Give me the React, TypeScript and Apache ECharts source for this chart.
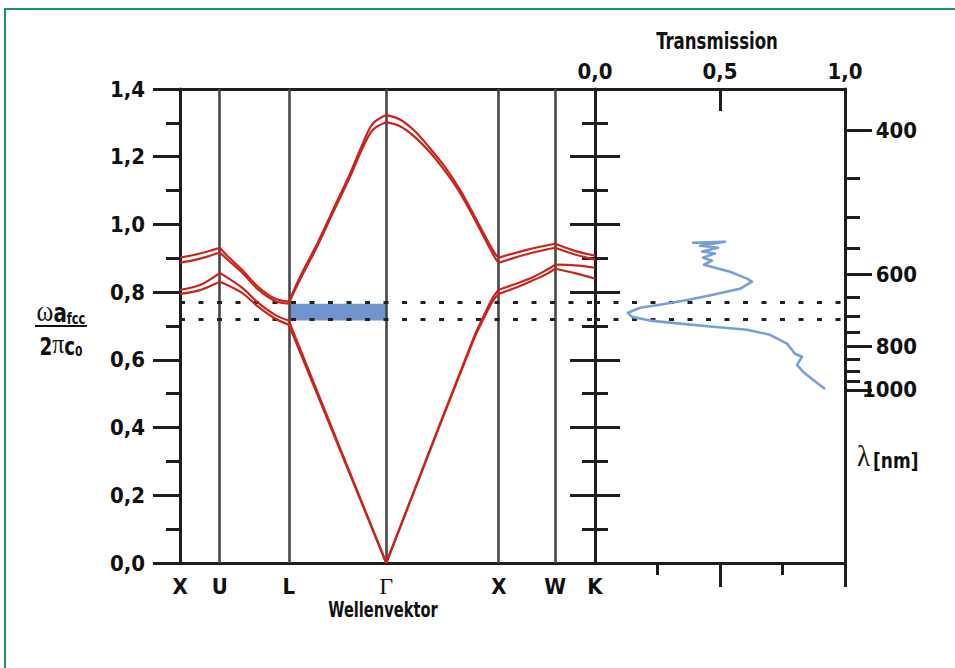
import React, { useEffect, useRef } from 'react';
import * as echarts from 'echarts';

const NARROW = "'Liberation Sans Narrow', 'DejaVu Sans Condensed', 'Liberation Sans', sans-serif";
const SERIF = "'Liberation Serif', 'DejaVu Serif', serif";

// high-symmetry points along the k path (path length in 2π/a units)
const K_NODES = [0, 0.354, 0.966, 1.832, 2.832, 3.332, 3.686];
const K_LABELS = ['X', 'U', 'L', 'Γ', 'X', 'W', 'K'];

// band structure: [k, ωa/2πc]
const BAND_1 = [
  [0, 0.795], [0.178, 0.806], [0.354, 0.831],
  [0.551, 0.798], [0.693, 0.757], [0.844, 0.722], [0.966, 0.704],
  [1.832, 0],
  [2.602, 0.655], [2.709, 0.73], [2.78, 0.775], [2.832, 0.795],
  [2.957, 0.81], [3.108, 0.831], [3.259, 0.854], [3.332, 0.869],
  [3.508, 0.856], [3.686, 0.84],
];
const BAND_2 = [
  [0, 0.807], [0.178, 0.821], [0.354, 0.857],
  [0.551, 0.813], [0.693, 0.769], [0.844, 0.733], [0.966, 0.716],
  [1.832, 0],
  [2.602, 0.66], [2.709, 0.738], [2.78, 0.785], [2.832, 0.807],
  [2.957, 0.822], [3.108, 0.84], [3.259, 0.866], [3.332, 0.881],
  [3.508, 0.879], [3.686, 0.872],
];
const BAND_3 = [
  [0, 0.887], [0.178, 0.899], [0.354, 0.917],
  [0.426, 0.895], [0.551, 0.858], [0.693, 0.808], [0.844, 0.774], [0.966, 0.766],
  [1.066, 0.837], [1.217, 0.934], [1.359, 1.035], [1.51, 1.141], [1.625, 1.228], [1.714, 1.28], [1.832, 1.302],
  [1.954, 1.29], [2.087, 1.258], [2.22, 1.213], [2.353, 1.158], [2.487, 1.093], [2.62, 1.013], [2.735, 0.94], [2.806, 0.897], [2.832, 0.887],
  [3.08, 0.912], [3.332, 0.931],
  [3.508, 0.911], [3.686, 0.896],
];
const BAND_4 = [
  [0, 0.902], [0.178, 0.914], [0.354, 0.931],
  [0.426, 0.905], [0.551, 0.866], [0.693, 0.816], [0.844, 0.781], [0.966, 0.772],
  [1.066, 0.845], [1.217, 0.942], [1.359, 1.043], [1.51, 1.15], [1.625, 1.24], [1.714, 1.298], [1.832, 1.323],
  [1.954, 1.31], [2.087, 1.275], [2.22, 1.225], [2.353, 1.17], [2.487, 1.102], [2.62, 1.022], [2.735, 0.95], [2.806, 0.91], [2.832, 0.902],
  [3.08, 0.925], [3.332, 0.943],
  [3.508, 0.922], [3.686, 0.908],
];
const BANDS = [BAND_1, BAND_2, BAND_3, BAND_4];

// band gap (dotted lines + shaded region)
const GAP_LOW = 0.716;
const GAP_HIGH = 0.766;

// transmission spectrum: transmission values and normalized frequency
const TRANS_T = [0.388, 0.52, 0.42, 0.492, 0.428, 0.48, 0.432, 0.468, 0.436, 0.54, 0.608, 0.628, 0.58, 0.472, 0.38, 0.26, 0.18, 0.132, 0.148, 0.22, 0.34, 0.472, 0.608, 0.70, 0.768, 0.80, 0.828, 0.808, 0.832, 0.872, 0.92];
const TRANS_F = [0.946, 0.949, 0.937, 0.931, 0.920, 0.914, 0.902, 0.893, 0.881, 0.860, 0.840, 0.831, 0.810, 0.792, 0.778, 0.763, 0.754, 0.739, 0.727, 0.716, 0.707, 0.698, 0.689, 0.674, 0.648, 0.618, 0.609, 0.585, 0.565, 0.541, 0.514];

// wavelength axis (λ = A_FCC / normalized frequency)
const A_FCC = 511;
const LAMBDA_MAJOR = [400, 600, 800, 1000];
const LAMBDA_MINOR = [450, 500, 550, 650, 700, 750, 850, 900, 950];

// axis tick labels
const Y_MAX = 1.4;
const T_LABELS = [0, 0.5, 1];

const INK = '#1e1e1e';
const RED = '#c8261d';
const BLUE = '#7a9fd7';

function splitSegments(band: number[][]) {
  const segs: number[][][] = [];
  let cur: number[][] = [];
  band.forEach((p, i) => {
    cur.push(p);
    const isNode = K_NODES.some((k) => Math.abs(k - p[0]) < 1e-6);
    if (isNode && i > 0 && i < band.length - 1) {
      segs.push(cur);
      cur = [p];
    }
  });
  if (cur.length > 1) segs.push(cur);
  return segs;
}

const comma = (v: number) => v.toFixed(1).replace('.', ',');

function buildOption() {
  const lblStyle = { fontFamily: NARROW, fontWeight: 'bold' as const, fontSize: 22, color: '#111' };
  const line3 = { color: INK, width: 3 };

  const bandSeries: any[] = [];
  BANDS.forEach((band) => {
    splitSegments(band).forEach((seg) => {
      bandSeries.push({
        type: 'line',
        xAxisIndex: 0,
        yAxisIndex: 0,
        data: seg,
        smooth: seg.length > 2 ? 0.35 : false,
        showSymbol: false,
        symbol: 'none',
        lineStyle: { color: RED, width: 2.2 },
        z: 6,
        silent: true,
      });
    });
  });

  const dotted = {
    type: [5, 13.5],
    width: 3,
    color: '#222',
  };

  return {
    animation: false,
    backgroundColor: '#ffffff',
    grid: [
      { left: 180, top: 89, width: 415, height: 474 },
      { left: 595, top: 89, width: 250, height: 474 },
    ],
    xAxis: [
      {
        gridIndex: 0, type: 'value', position: 'bottom', min: 0, max: K_NODES[K_NODES.length - 1],
        axisLine: { show: true, onZero: false, lineStyle: line3 },
        axisTick: { show: false },
        splitLine: { show: false },
        axisLabel: {
          ...lblStyle,
          margin: 14,
          lineHeight: 18,
          customValues: K_NODES,
          formatter: (v: number) => {
            const i = K_NODES.findIndex((k) => Math.abs(k - v) < 1e-6);
            const t = i >= 0 ? K_LABELS[i] : '';
            return t === 'Γ' ? '{g|Γ}' : t;
          },
          rich: { g: { fontFamily: SERIF, fontWeight: 'normal', fontSize: 24, lineHeight: 18, color: '#111' } },
        },
      },
      {
        gridIndex: 0, type: 'value', position: 'top', min: 0, max: K_NODES[K_NODES.length - 1],
        axisLine: { show: true, onZero: false, lineStyle: line3 },
        axisTick: { show: false }, axisLabel: { show: false }, splitLine: { show: false },
      },
      {
        gridIndex: 1, type: 'value', position: 'top', min: 0, max: 1,
        axisLine: { show: true, onZero: false, lineStyle: line3 },
        axisTick: { show: true, inside: true, length: 22, customValues: [0.5], lineStyle: line3 },
        axisLabel: { ...lblStyle, margin: 7, customValues: T_LABELS, formatter: (v: number) => comma(v) },
        splitLine: { show: false },
      },
      {
        gridIndex: 1, type: 'value', position: 'top', min: 0, max: 1,
        axisLine: { show: false },
        axisTick: { show: true, inside: true, length: 12, customValues: [0.25, 0.75], lineStyle: line3 },
        axisLabel: { show: false }, splitLine: { show: false },
      },
      {
        gridIndex: 1, type: 'value', position: 'bottom', min: 0, max: 1,
        axisLine: { show: true, onZero: false, lineStyle: line3 },
        axisTick: { show: true, inside: false, length: 24, customValues: [0.5, 1], lineStyle: line3 },
        axisLabel: { show: false }, splitLine: { show: false },
      },
      {
        gridIndex: 1, type: 'value', position: 'bottom', min: 0, max: 1,
        axisLine: { show: false },
        axisTick: { show: true, inside: false, length: 12, customValues: [0.25, 0.75], lineStyle: line3 },
        axisLabel: { show: false }, splitLine: { show: false },
      },
    ],
    yAxis: [
      {
        gridIndex: 0, type: 'value', position: 'left', min: 0, max: Y_MAX, interval: 0.2,
        axisLine: { show: true, onZero: false, lineStyle: line3 },
        axisTick: { show: true, inside: false, length: 27, lineStyle: line3 },
        minorTick: { show: true, splitNumber: 2, length: 14, lineStyle: line3 },
        axisLabel: { ...lblStyle, margin: 35, formatter: (v: number) => comma(v) },
        splitLine: { show: false },
      },
      {
        gridIndex: 0, type: 'value', position: 'right', min: 0, max: Y_MAX, interval: 0.2,
        axisLine: { show: true, onZero: false, lineStyle: line3 },
        axisTick: { show: true, inside: false, length: 25, lineStyle: line3 },
        minorTick: { show: true, splitNumber: 2, length: 13, lineStyle: line3 },
        axisLabel: { show: false }, splitLine: { show: false },
      },
      {
        gridIndex: 0, type: 'value', position: 'right', min: 0, max: Y_MAX, interval: 0.2,
        axisLine: { show: false, onZero: false },
        axisTick: { show: true, inside: true, length: 25, lineStyle: line3 },
        minorTick: { show: true, splitNumber: 2, length: 13, lineStyle: line3 },
        axisLabel: { show: false }, splitLine: { show: false },
      },
      {
        gridIndex: 1, type: 'value', position: 'right', min: 0, max: Y_MAX,
        axisLine: { show: true, onZero: false, lineStyle: line3 },
        axisTick: { show: true, inside: false, length: 27, customValues: LAMBDA_MAJOR.map((l) => A_FCC / l), lineStyle: line3 },
        axisLabel: {
          ...lblStyle, margin: 72, align: 'right',
          customValues: LAMBDA_MAJOR.map((l) => A_FCC / l),
          formatter: (v: number) => String(Math.round(A_FCC / v)),
        },
        splitLine: { show: false },
      },
      {
        gridIndex: 1, type: 'value', position: 'right', min: 0, max: Y_MAX,
        axisLine: { show: false, onZero: false },
        axisTick: { show: true, inside: false, length: 15, customValues: LAMBDA_MINOR.map((l) => A_FCC / l), lineStyle: line3 },
        axisLabel: { show: false }, splitLine: { show: false },
      },
    ],
    series: [
      {
        type: 'line', xAxisIndex: 0, yAxisIndex: 0, data: [[K_NODES[2], GAP_LOW]], showSymbol: false, symbol: 'none',
        lineStyle: { opacity: 0 }, silent: true, z: 1,
        markArea: {
          silent: true,
          itemStyle: { color: '#6f95cf', opacity: 1 },
          data: [[{ xAxis: K_NODES[2], yAxis: GAP_LOW }, { xAxis: K_NODES[3], yAxis: GAP_HIGH }]],
        },
      },
      {
        type: 'line', xAxisIndex: 0, yAxisIndex: 0, data: [[K_NODES[2], GAP_LOW]], showSymbol: false, symbol: 'none',
        lineStyle: { opacity: 0 }, silent: true, z: 2,
        markLine: {
          silent: true, symbol: ['none', 'none'], label: { show: false },
          lineStyle: { color: '#474747', width: 2.6, type: 'solid' },
          data: K_NODES.slice(1, -1).map((k) => ({ xAxis: k })),
        },
      },
      {
        type: 'line', xAxisIndex: 0, yAxisIndex: 0, data: [[K_NODES[2], GAP_LOW]], showSymbol: false, symbol: 'none',
        lineStyle: { opacity: 0 }, silent: true, z: 3,
        markLine: {
          silent: true, symbol: ['none', 'none'], label: { show: false },
          lineStyle: dotted,
          data: [{ yAxis: GAP_HIGH }, { yAxis: GAP_LOW }],
        },
      },
      {
        type: 'line', xAxisIndex: 2, yAxisIndex: 3, data: [[0.5, GAP_LOW]], showSymbol: false, symbol: 'none',
        lineStyle: { opacity: 0 }, silent: true, z: 3,
        markLine: {
          silent: true, symbol: ['none', 'none'], label: { show: false },
          lineStyle: dotted,
          data: [{ yAxis: GAP_HIGH }, { yAxis: GAP_LOW }],
        },
      },
      ...bandSeries,
      {
        type: 'line', xAxisIndex: 2, yAxisIndex: 3,
        data: TRANS_T.map((t, i) => [t, TRANS_F[i]]),
        showSymbol: false, symbol: 'none', smooth: false,
        lineStyle: { color: BLUE, width: 2.6, join: 'round' },
        z: 6, silent: true,
      },
    ],
    graphic: [
      {
        type: 'rect', silent: true, z: -1,
        shape: { x: 5, y: 9, width: 1000, height: 1000 },
        style: { fill: 'none', stroke: '#1f8c78', lineWidth: 2 },
      },
      {
        type: 'text', x: 717, y: 41, scaleX: 0.8,
        style: { text: 'Transmission', fontFamily: NARROW, fontWeight: 'bold', fontSize: 23, fill: '#111', align: 'center', verticalAlign: 'middle' },
      },
      {
        type: 'text', x: 383, y: 610, scaleX: 0.74,
        style: { text: 'Wellenvektor', fontFamily: NARROW, fontWeight: 'bold', fontSize: 22, fill: '#111', align: 'center', verticalAlign: 'middle' },
      },
      {
        type: 'text', x: 61, y: 311, scaleX: 0.85,
        style: {
          text: '{w|ω}{a|a}{s|fcc}', align: 'center', verticalAlign: 'middle', fill: '#111',
          rich: {
            w: { fontFamily: SERIF, fontSize: 30, lineHeight: 30, verticalAlign: 'bottom', fill: '#111' },
            a: { fontFamily: NARROW, fontWeight: 'bold', fontSize: 26, lineHeight: 26, verticalAlign: 'bottom', fill: '#111' },
            s: { fontFamily: NARROW, fontWeight: 'bold', fontSize: 15, lineHeight: 15, verticalAlign: 'bottom', fill: '#111' },
          },
        },
      },
      {
        type: 'line', shape: { x1: 35, y1: 326, x2: 87, y2: 326 },
        style: { stroke: '#111', lineWidth: 2 },
      },
      {
        type: 'text', x: 61, y: 344, scaleX: 0.85,
        style: {
          text: '{n|2}{p|π}{c|c}{s|0}', align: 'center', verticalAlign: 'middle', fill: '#111',
          rich: {
            n: { fontFamily: NARROW, fontWeight: 'bold', fontSize: 24, lineHeight: 24, verticalAlign: 'bottom', fill: '#111' },
            p: { fontFamily: SERIF, fontSize: 28, lineHeight: 28, verticalAlign: 'bottom', fill: '#111' },
            c: { fontFamily: NARROW, fontWeight: 'bold', fontSize: 24, lineHeight: 24, verticalAlign: 'bottom', fill: '#111' },
            s: { fontFamily: NARROW, fontWeight: 'bold', fontSize: 14, lineHeight: 14, verticalAlign: 'bottom', fill: '#111' },
          },
        },
      },
      {
        type: 'text', x: 857, y: 458, scaleX: 0.9,
        style: {
          text: '{l|λ} {n|[nm]}', align: 'left', verticalAlign: 'middle', fill: '#111',
          rich: {
            l: { fontFamily: SERIF, fontSize: 30, lineHeight: 26, verticalAlign: 'bottom', fill: '#111' },
            n: { fontFamily: NARROW, fontWeight: 'bold', fontSize: 21, lineHeight: 26, verticalAlign: 'bottom', fill: '#111' },
          },
        },
      },
    ],
  };
}

export default function App() {
  const ref = useRef<HTMLDivElement>(null);
  useEffect(() => {
    if (!ref.current) return;
    const chart = echarts.init(ref.current, null, { renderer: 'svg' });
    chart.setOption(buildOption() as any);
    return () => chart.dispose();
  }, []);
  return (
    <div
      ref={ref}
      style={{ position: 'fixed', left: 0, top: 0, width: 955, height: 668, background: '#ffffff' }}
    />
  );
}
